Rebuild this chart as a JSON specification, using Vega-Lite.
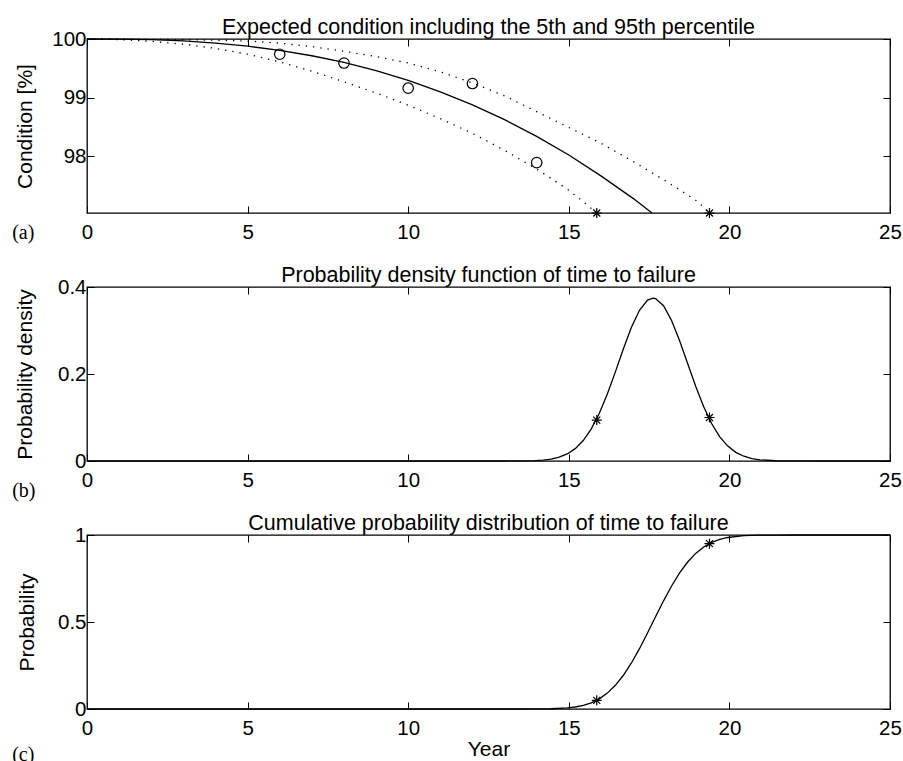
{
  "$schema": "https://vega.github.io/schema/vega-lite/v6.json",
  "background": "white",
  "padding": {"left": 11, "top": 15, "right": 5, "bottom": 0},
  "bounds": "flush",
  "spacing": 74,
  "config": {
    "view": {"stroke": "black", "strokeWidth": 1.3},
    "axis": {
      "labelFont": "Liberation Sans", "labelFontSize": 20.5, "labelColor": "black",
      "titleFont": "Liberation Sans", "titleFontSize": 21, "titleFontWeight": "normal", "titleColor": "black",
      "tickColor": "black", "tickSize": -7, "tickWidth": 1, "domain": false, "grid": false,
      "labelFlush": false, "labelOverlap": false, "format": "~r"
    },
    "axisX": {"labelPadding": 16, "titlePadding": 0},
    "axisY": {"labelPadding": 8, "titlePadding": 16},
    "title": {"font": "Liberation Sans", "fontSize": 21.5, "fontWeight": "normal", "color": "black", "frame": "group", "offset": -9}
  },
  "vconcat": [
    {
      "width": 803, "height": 174,
      "title": {"text": "Expected condition including the 5th and 95th percentile"},
      "encoding": {
        "x": {"field": "t", "type": "quantitative", "scale": {"domain": [0, 25], "nice": false, "zero": false}, "axis": null},
        "y": {"field": "v", "type": "quantitative", "scale": {"domain": [97.03, 100], "nice": false, "zero": false}, "axis": null}
      },
      "layer": [
        {
          "data": {"values": [
            {"t": 0, "v": 100}, {"t": 1, "v": 99.998}, {"t": 2, "v": 99.988}, {"t": 3, "v": 99.967}, {"t": 4, "v": 99.931},
            {"t": 5, "v": 99.878}, {"t": 6, "v": 99.807}, {"t": 7, "v": 99.714}, {"t": 8, "v": 99.6}, {"t": 9, "v": 99.459},
            {"t": 10, "v": 99.293}, {"t": 11, "v": 99.099}, {"t": 12, "v": 98.876}, {"t": 13, "v": 98.623}, {"t": 14, "v": 98.337},
            {"t": 15, "v": 98.019}, {"t": 16, "v": 97.664}, {"t": 17, "v": 97.28}, {"t": 17.59, "v": 97.03}
          ]},
          "mark": {"type": "line", "color": "black", "strokeWidth": 1.3},
          "encoding": {
            "x": {"field": "t", "type": "quantitative", "scale": {"domain": [0, 25], "nice": false, "zero": false},
                  "axis": {"orient": "bottom", "values": [0, 5, 10, 15, 20, 25], "title": null}},
            "y": {"field": "v", "type": "quantitative", "scale": {"domain": [97.03, 100], "nice": false, "zero": false},
                  "axis": {"orient": "left", "values": [98, 99, 100], "title": "Condition [%]", "titlePadding": 16}}
          }
        },
        {
          "data": {"values": [
            {"t": 0, "v": 100}, {"t": 1, "v": 99.99}, {"t": 2, "v": 99.96}, {"t": 3, "v": 99.91}, {"t": 4, "v": 99.84},
            {"t": 5, "v": 99.74}, {"t": 6, "v": 99.61}, {"t": 7, "v": 99.45}, {"t": 8, "v": 99.27}, {"t": 9, "v": 99.08},
            {"t": 10, "v": 98.87}, {"t": 11, "v": 98.64}, {"t": 12, "v": 98.39}, {"t": 13, "v": 98.1}, {"t": 14, "v": 97.78},
            {"t": 15, "v": 97.42}, {"t": 15.5, "v": 97.2}, {"t": 15.87, "v": 97.03}
          ]},
          "mark": {"type": "line", "color": "black", "strokeWidth": 1.3, "strokeDash": [1.3, 6]}
        },
        {
          "data": {"values": [
            {"t": 0, "v": 100}, {"t": 2, "v": 99.995}, {"t": 4, "v": 99.98}, {"t": 5, "v": 99.965}, {"t": 6, "v": 99.93},
            {"t": 7, "v": 99.87}, {"t": 8, "v": 99.79}, {"t": 9, "v": 99.7}, {"t": 10, "v": 99.59}, {"t": 11, "v": 99.44},
            {"t": 12, "v": 99.25}, {"t": 13, "v": 99.03}, {"t": 14, "v": 98.76}, {"t": 15, "v": 98.49}, {"t": 16, "v": 98.22},
            {"t": 17, "v": 97.91}, {"t": 18, "v": 97.58}, {"t": 18.5, "v": 97.41}, {"t": 19, "v": 97.23}, {"t": 19.38, "v": 97.03}
          ]},
          "mark": {"type": "line", "color": "black", "strokeWidth": 1.3, "strokeDash": [1.3, 6]}
        },
        {
          "data": {"values": [
            {"t": 6, "v": 99.74}, {"t": 8, "v": 99.59}, {"t": 10, "v": 99.16}, {"t": 12, "v": 99.24}, {"t": 14, "v": 97.89}
          ]},
          "mark": {"type": "point", "shape": "circle", "size": 110, "filled": false, "color": "black", "strokeWidth": 1.2, "opacity": 1}
        },
        {
          "data": {"values": [{"t": 15.87, "v": 97.03}, {"t": 19.38, "v": 97.03}]},
          "mark": {"type": "point", "shape": "M-1,0L1,0M0,-1L0,1M-0.7,-0.7L0.7,0.7M-0.7,0.7L0.7,-0.7", "size": 100, "filled": false, "color": "black", "strokeWidth": 1.2, "opacity": 1, "clip": false},
          "encoding": {
            "x": {"field": "t", "type": "quantitative", "scale": {"domain": [0, 25], "nice": false, "zero": false},
                  "axis": {"orient": "top", "values": [0, 5, 10, 15, 20, 25], "labels": false, "title": null}},
            "y": {"field": "v", "type": "quantitative", "scale": {"domain": [97.03, 100], "nice": false, "zero": false},
                  "axis": {"orient": "right", "values": [98, 99, 100], "labels": false, "title": null}}
          }
        },
        {
          "data": {"values": [{"t": -2.33, "v": 96.695, "lab": "(a)"}]},
          "mark": {"type": "text", "align": "left", "baseline": "middle", "font": "Liberation Serif", "fontSize": 20, "color": "black"},
          "encoding": {"text": {"field": "lab"}}
        }
      ],
      "resolve": {"axis": {"x": "independent", "y": "independent"}}
    },
    {
      "width": 803, "height": 174,
      "title": {"text": "Probability density function of time to failure"},
      "encoding": {
        "x": {"field": "t", "type": "quantitative", "scale": {"domain": [0, 25], "nice": false, "zero": false}, "axis": null},
        "y": {"field": "v", "type": "quantitative", "scale": {"domain": [0, 0.4], "nice": false, "zero": false}, "axis": null}
      },
      "layer": [
        {
          "data": {"values": [
            {"t": 0, "v": 0}, {"t": 5, "v": 0}, {"t": 10, "v": 0}, {"t": 12, "v": 0.000001}, {"t": 12.95, "v": 0.000025},
            {"t": 13.45, "v": 0.00018}, {"t": 13.95, "v": 0.00099}, {"t": 14.2, "v": 0.00216}, {"t": 14.45, "v": 0.00446},
            {"t": 14.7, "v": 0.00873}, {"t": 14.95, "v": 0.01617}, {"t": 15.2, "v": 0.02836}, {"t": 15.45, "v": 0.04694},
            {"t": 15.7, "v": 0.07376}, {"t": 15.95, "v": 0.1096}, {"t": 16.2, "v": 0.154}, {"t": 16.45, "v": 0.2049},
            {"t": 16.7, "v": 0.258}, {"t": 16.95, "v": 0.3074}, {"t": 17.2, "v": 0.3466}, {"t": 17.45, "v": 0.3698},
            {"t": 17.62, "v": 0.3746}, {"t": 17.7, "v": 0.3735}, {"t": 17.95, "v": 0.357}, {"t": 18.2, "v": 0.323},
            {"t": 18.45, "v": 0.2765}, {"t": 18.7, "v": 0.224}, {"t": 18.95, "v": 0.1718}, {"t": 19.2, "v": 0.1246},
            {"t": 19.45, "v": 0.0856}, {"t": 19.7, "v": 0.0556}, {"t": 19.95, "v": 0.0342}, {"t": 20.2, "v": 0.0199},
            {"t": 20.45, "v": 0.011}, {"t": 20.7, "v": 0.0057}, {"t": 20.95, "v": 0.0028}, {"t": 21.45, "v": 0.00058},
            {"t": 21.95, "v": 0.0001}, {"t": 23, "v": 0}, {"t": 25, "v": 0}
          ]},
          "mark": {"type": "line", "color": "black", "strokeWidth": 1.3},
          "encoding": {
            "x": {"field": "t", "type": "quantitative", "scale": {"domain": [0, 25], "nice": false, "zero": false},
                  "axis": {"orient": "bottom", "values": [0, 5, 10, 15, 20, 25], "title": null}},
            "y": {"field": "v", "type": "quantitative", "scale": {"domain": [0, 0.4], "nice": false, "zero": false},
                  "axis": {"orient": "left", "values": [0, 0.2, 0.4], "title": "Probability density", "titlePadding": 22}}
          }
        },
        {
          "data": {"values": [{"t": 15.87, "v": 0.094}, {"t": 19.38, "v": 0.1}]},
          "mark": {"type": "point", "shape": "M-1,0L1,0M0,-1L0,1M-0.7,-0.7L0.7,0.7M-0.7,0.7L0.7,-0.7", "size": 100, "filled": false, "color": "black", "strokeWidth": 1.2, "opacity": 1},
          "encoding": {
            "x": {"field": "t", "type": "quantitative", "scale": {"domain": [0, 25], "nice": false, "zero": false},
                  "axis": {"orient": "top", "values": [0, 5, 10, 15, 20, 25], "labels": false, "title": null}},
            "y": {"field": "v", "type": "quantitative", "scale": {"domain": [0, 0.4], "nice": false, "zero": false},
                  "axis": {"orient": "right", "values": [0, 0.2, 0.4], "labels": false, "title": null}}
          }
        },
        {
          "data": {"values": [{"t": -2.33, "v": -0.0683, "lab": "(b)"}]},
          "mark": {"type": "text", "align": "left", "baseline": "middle", "font": "Liberation Serif", "fontSize": 20, "color": "black"},
          "encoding": {"text": {"field": "lab"}}
        }
      ],
      "resolve": {"axis": {"x": "independent", "y": "independent"}}
    },
    {
      "width": 803, "height": 174,
      "title": {"text": "Cumulative probability distribution of time to failure"},
      "encoding": {
        "x": {"field": "t", "type": "quantitative", "scale": {"domain": [0, 25], "nice": false, "zero": false}, "axis": null},
        "y": {"field": "v", "type": "quantitative", "scale": {"domain": [0, 1], "nice": false, "zero": false}, "axis": null}
      },
      "layer": [
        {
          "data": {"values": [
            {"t": 0, "v": 0}, {"t": 5, "v": 0}, {"t": 10, "v": 0}, {"t": 12.95, "v": 0.000006}, {"t": 13.45, "v": 0.000045},
            {"t": 13.95, "v": 0.00029}, {"t": 14.45, "v": 0.00146}, {"t": 14.95, "v": 0.00609}, {"t": 15.2, "v": 0.01154},
            {"t": 15.45, "v": 0.02078}, {"t": 15.7, "v": 0.0357}, {"t": 15.95, "v": 0.0584}, {"t": 16.2, "v": 0.0913},
            {"t": 16.45, "v": 0.136}, {"t": 16.7, "v": 0.1939}, {"t": 16.95, "v": 0.2646}, {"t": 17.2, "v": 0.3466},
            {"t": 17.45, "v": 0.4366}, {"t": 17.7, "v": 0.5299}, {"t": 17.95, "v": 0.6217}, {"t": 18.2, "v": 0.707},
            {"t": 18.45, "v": 0.7821}, {"t": 18.7, "v": 0.8447}, {"t": 18.95, "v": 0.8941}, {"t": 19.2, "v": 0.931},
            {"t": 19.45, "v": 0.9571}, {"t": 19.7, "v": 0.9746}, {"t": 19.95, "v": 0.9857}, {"t": 20.45, "v": 0.9961},
            {"t": 20.95, "v": 0.9991}, {"t": 21.45, "v": 0.9998}, {"t": 22, "v": 1}, {"t": 25, "v": 1}
          ]},
          "mark": {"type": "line", "color": "black", "strokeWidth": 1.3},
          "encoding": {
            "x": {"field": "t", "type": "quantitative", "scale": {"domain": [0, 25], "nice": false, "zero": false},
                  "axis": {"orient": "bottom", "values": [0, 5, 10, 15, 20, 25], "title": "Year"}},
            "y": {"field": "v", "type": "quantitative", "scale": {"domain": [0, 1], "nice": false, "zero": false},
                  "axis": {"orient": "left", "values": [0, 0.5, 1], "title": "Probability", "titlePadding": 20}}
          }
        },
        {
          "data": {"values": [{"t": 15.87, "v": 0.05}, {"t": 19.38, "v": 0.95}]},
          "mark": {"type": "point", "shape": "M-1,0L1,0M0,-1L0,1M-0.7,-0.7L0.7,0.7M-0.7,0.7L0.7,-0.7", "size": 100, "filled": false, "color": "black", "strokeWidth": 1.2, "opacity": 1},
          "encoding": {
            "x": {"field": "t", "type": "quantitative", "scale": {"domain": [0, 25], "nice": false, "zero": false},
                  "axis": {"orient": "top", "values": [0, 5, 10, 15, 20, 25], "labels": false, "title": null}},
            "y": {"field": "v", "type": "quantitative", "scale": {"domain": [0, 1], "nice": false, "zero": false},
                  "axis": {"orient": "right", "values": [0, 0.5, 1], "labels": false, "title": null}}
          }
        },
        {
          "data": {"values": [{"t": -2.33, "v": -0.2626, "lab": "(c)"}]},
          "mark": {"type": "text", "align": "left", "baseline": "middle", "font": "Liberation Serif", "fontSize": 20, "color": "black"},
          "encoding": {"text": {"field": "lab"}}
        }
      ],
      "resolve": {"axis": {"x": "independent", "y": "independent"}}
    }
  ]
}
